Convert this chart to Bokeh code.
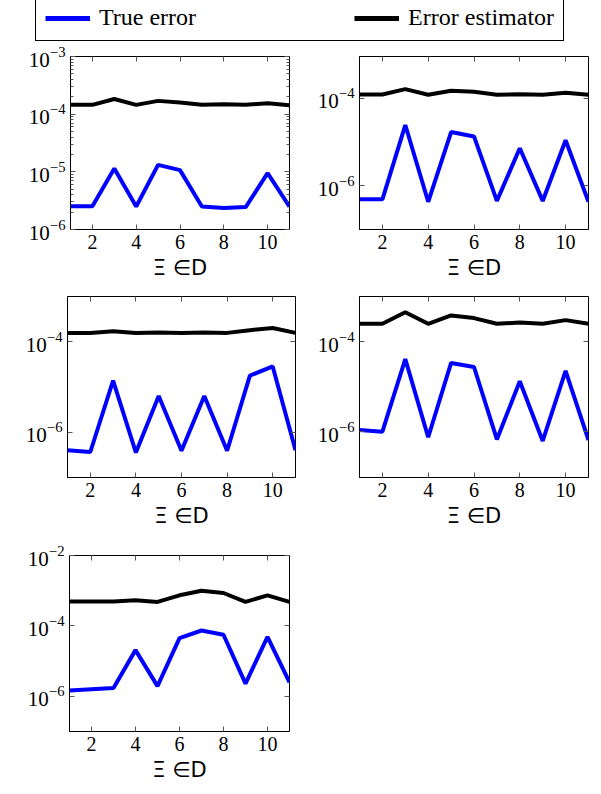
from bokeh.plotting import figure
from bokeh.layouts import column, row
from bokeh.models import (Range1d, FixedTicker, LogAxis, LinearAxis,
                          CustomJSTickFormatter, Legend, LegendItem)
from bokeh.embed import file_html
from bokeh.resources import INLINE

# ---------------- data ----------------
xi = [1, 2, 3, 4, 5, 6, 7, 8, 9, 10, 11]
x_ticks = [2, 4, 6, 8, 10]

true_1 = [2.54e-6, 2.54e-6, 1.14e-5, 2.5e-6, 1.32e-5, 1.07e-5, 2.5e-6, 2.35e-6, 2.45e-6, 9.5e-6, 2.5e-6]
est_1 = [1.45e-4, 1.45e-4, 1.83e-4, 1.45e-4, 1.7e-4, 1.6e-4, 1.45e-4, 1.48e-4, 1.45e-4, 1.55e-4, 1.43e-4]

true_2 = [4.9e-7, 4.9e-7, 2.44e-5, 4.3e-7, 1.69e-5, 1.34e-5, 4.5e-7, 7.2e-6, 4.5e-7, 1.1e-5, 4.3e-7]
est_2 = [1.22e-4, 1.22e-4, 1.62e-4, 1.2e-4, 1.49e-4, 1.4e-4, 1.2e-4, 1.24e-4, 1.2e-4, 1.33e-4, 1.2e-4]

true_3 = [4.0e-7, 3.66e-7, 1.39e-5, 3.55e-7, 6.3e-6, 3.9e-7, 6.3e-6, 3.9e-7, 1.78e-5, 2.85e-5, 4.0e-7]
est_3 = [1.57e-4, 1.57e-4, 1.71e-4, 1.57e-4, 1.6e-4, 1.57e-4, 1.6e-4, 1.57e-4, 1.8e-4, 2.02e-4, 1.57e-4]

true_4 = [1.09e-6, 1.0e-6, 4.15e-5, 7.5e-7, 3.4e-5, 2.76e-5, 6.7e-7, 1.33e-5, 6.2e-7, 2.25e-5, 6.5e-7]
est_4 = [2.54e-4, 2.54e-4, 4.6e-4, 2.54e-4, 3.9e-4, 3.4e-4, 2.54e-4, 2.7e-4, 2.54e-4, 3.06e-4, 2.54e-4]

true_5 = [1.45e-6, 1.58e-6, 1.72e-6, 2.05e-5, 1.95e-6, 4.5e-5, 7.4e-5, 5.6e-5, 2.3e-6, 4.9e-5, 2.5e-6]
est_5 = [4.9e-4, 4.9e-4, 4.9e-4, 5.35e-4, 4.8e-4, 7.4e-4, 1.0e-3, 8.6e-4, 4.8e-4, 7.4e-4, 4.8e-4]

yticks_1 = [1e-6, 1e-5, 1e-4, 1e-3]
yticks_2 = [1e-6, 1e-4]
yticks_5 = [1e-6, 1e-4, 1e-2]

labels = ["True error", "Error estimator"]
BLUE = "#0000ff"
BLACK = "#000000"
TICK_COL = "#555555"
SERIF = "Liberation Serif"
NAN = float("nan")


def minor_decades(lo, hi):
    out = []
    e = lo
    while e < hi:
        out += [k * 10.0 ** e for k in range(2, 10)]
        e += 1
    return out


def style_axis(ax, ticker, labelled=True):
    ax.ticker = ticker
    ax.major_tick_in = 5
    ax.major_tick_out = 0
    ax.minor_tick_in = 3
    ax.minor_tick_out = 0
    ax.major_tick_line_color = TICK_COL
    ax.minor_tick_line_color = TICK_COL
    ax.axis_line_color = BLACK
    ax.major_label_text_font = SERIF
    ax.major_label_text_color = BLACK
    if not labelled:
        ax.formatter = CustomJSTickFormatter(code="return ''")
        ax.major_label_standoff = 0
        ax.axis_line_color = None


def panel(true_v, est_v, yr, yticks, minor, left, fw, right, top, fh, bottom):
    p = figure(width=left + fw + right, height=top + fh + bottom,
               x_range=Range1d(1, 11), y_range=Range1d(*yr),
               y_axis_type="log", toolbar_location=None, output_backend="svg",
               min_border_left=left, min_border_right=right,
               min_border_top=top, min_border_bottom=bottom)
    p.grid.visible = False
    p.outline_line_color = BLACK
    p.outline_line_width = 1
    p.background_fill_color = "white"
    p.border_fill_color = "white"

    xt = FixedTicker(ticks=x_ticks, minor_ticks=[])
    yt = FixedTicker(ticks=yticks, minor_ticks=minor)

    style_axis(p.xaxis[0], xt)
    style_axis(p.yaxis[0], yt)
    p.xaxis[0].major_label_text_font_size = "20px"
    p.yaxis[0].major_label_text_font_size = "21px"
    p.xaxis[0].major_label_standoff = 5
    p.yaxis[0].major_label_standoff = 5
    p.xaxis[0].axis_label = "Ξ ∈D"
    p.xaxis[0].axis_label_text_font = "DejaVu Sans"
    p.xaxis[0].axis_label_text_font_style = "normal"
    p.xaxis[0].axis_label_text_font_size = "21px"
    p.xaxis[0].axis_label_text_color = BLACK
    p.xaxis[0].axis_label_standoff = 4

    ra = LogAxis()
    style_axis(ra, yt, labelled=False)
    p.add_layout(ra, "right")
    ta = LinearAxis()
    style_axis(ta, xt, labelled=False)
    p.add_layout(ta, "above")

    p.line(xi, true_v, line_color=BLUE, line_width=4)
    p.line(xi, est_v, line_color=BLACK, line_width=4)
    return p


p1 = panel(true_1, est_1, (1e-6, 1e-3), yticks_1, minor_decades(-6, -3),
           70, 219, 11, 15, 175, 54)
p2 = panel(true_2, est_2, (1e-7, 9e-4), yticks_2, [],
           59, 229, 13, 6, 182, 56)
p3 = panel(true_3, est_3, (1e-7, 1e-3), yticks_2, [],
           67, 228, 5, 11, 183, 51)
p4 = panel(true_4, est_4, (9.5e-8, 1.03e-3), yticks_2, [],
           59, 229, 13, 11, 183, 51)
p5 = panel(true_5, est_5, (1e-7, 1e-2), yticks_5, [],
           69, 220, 11, 25, 176, 63)

# ---------------- legend strip ----------------
lg = figure(width=601, height=41, x_range=Range1d(0, 1), y_range=Range1d(0, 1),
            x_axis_location=None, y_axis_location=None, toolbar_location=None,
            output_backend="svg", min_border=0)
lg.grid.visible = False
lg.outline_line_color = None
r_true = lg.line(x=[NAN], y=[NAN], line_color=BLUE, line_width=5)
r_est = lg.line(x=[NAN], y=[NAN], line_color=BLACK, line_width=5)
legend = Legend(items=[LegendItem(label=labels[0], renderers=[r_true]),
                       LegendItem(label=labels[1], renderers=[r_est])],
                orientation="horizontal", location=(35, 0),
                border_line_color=BLACK, border_line_width=1, border_line_alpha=1.0,
                padding=9, spacing=158, margin=0,
                glyph_width=45, glyph_height=20, label_standoff=9,
                label_text_font=SERIF, label_text_font_size="24px",
                label_text_color=BLACK, label_height=20)
lg.add_layout(legend, "center")

layout = column(lg, row(p1, p2, spacing=0), row(p3, p4, spacing=0), row(p5, spacing=0), spacing=0)

open("out.html", "w").write(file_html(layout, INLINE))
